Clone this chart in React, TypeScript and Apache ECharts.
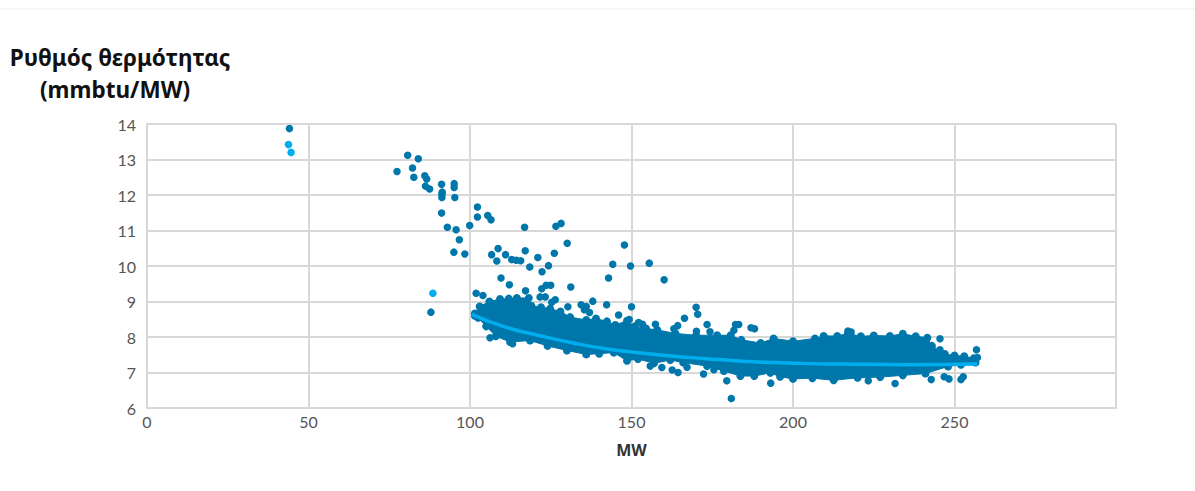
import React, { useEffect, useRef } from "react";
import * as echarts from "echarts";

const titleLines = ["Ρυθμός θερμότητας", "(mmbtu/MW)"];
const xName = "MW";

const darkPoints = [
  [44.1,13.87],[80.7,13.12],[84,13.02],[77.4,12.66],[82.2,12.76],[82.6,12.5],[86,12.54],[86.6,12.45],[86.2,12.25],[87.5,12.17],
  [91.2,12.3],[91.4,12.08],[91.3,12.02],[91.3,11.93],[95.1,12.32],[95.1,12.21],[95.3,11.93],[91.2,11.49],[93,11.09],[95.7,11.02],
  [96.7,10.74],[95,10.39],[98.4,10.34],[99.9,11.14],[102.3,11.66],[102.3,11.38],[105.5,11.42],[106.5,11.3],[116.9,11.09],[126.6,11.12],
  [128.2,11.2],[130.1,10.64],[147.8,10.59],[108.7,10.49],[106.7,10.32],[108.3,10.14],[111,10.32],[112.9,10.18],[114.3,10.16],[115.7,10.15],
  [117.1,10.43],[118.5,9.97],[121,10.24],[124.3,10.01],[126.1,10.36],[122.3,9.84],[109.6,9.66],[112.2,9.47],[117.2,9.3],[122.2,9.36],
  [123.6,9.46],[125,9.46],[131.2,9.41],[121.7,9.13],[123.3,9.13],[125.3,8.98],[126.4,9.05],[101.9,9.23],[104,9.17],[130.3,8.85],
  [134.4,8.91],[136,8.86],[135.4,8.77],[137,8.69],[138,9.01],[142.3,8.91],[142.9,9.66],[144.2,10.05],[149.7,10],[155.5,10.08],
  [160.1,9.61],[150,8.85],[146,8.62],[149.3,8.49],[152.2,8.41],[153.4,8.36],[157.4,8.36],[166.4,8.53],[170,8.84],[170.5,8.64],
  [173.4,8.35],[174.3,8.15],[170.1,8.16],[164.3,8.32],[163.1,8.23],[182.2,8.35],[183.2,8.35],[187,8.26],[188.1,8.23],[181.7,8.19],
  [106.2,7.98],[113.2,7.81],[159.4,7.14],[162.6,7.07],[164.4,7],[172.3,6.96],[175.5,7.08],[179.5,6.77],[180.9,6.27],[193.1,6.7],
  [155.8,7.18],[167.2,7.15],[223.3,6.77],[231.6,6.69],[242.8,6.8],[246.8,6.88],[248.3,6.82],[252,6.8],[252.7,6.88],[245.5,7.95],
  [245.5,7.64],[256.8,7.64],[257.1,7.42],[87.9,8.7],[217,8.17],[218,8.14],
];
const lightPoints = [[43.8,13.42],[44.6,13.2],[88.5,9.23]];

const bandUpper = [
  [101.5,8.66],[103,8.86],[106,9],[109.3,9.07],[112,9.08],[114.5,9.1],[118.2,9.1],[119,8.88],[122,8.84],[124.8,8.8],[128,8.72],[131,8.56],
  [136,8.48],[139,8.52],[142.4,8.44],[145,8.34],[148.6,8.46],[151,8.3],[154.5,8.24],[158,8.2],[163.6,8.1],[170,8.05],[176.5,8.05],
  [180.7,8.05],[184,7.92],[190,7.83],[194,7.96],[200,7.88],[206.8,7.96],[209.5,8.03],[213.7,8.03],[217,8.1],[221,8.02],[225,8.04],
  [230,8.03],[234,8.09],[238,8.02],[241.6,7.98],[243,7.75],[247,7.52],[250,7.48],[253,7.46],[256,7.4],
];
const bandLower = [
  [101.5,8.6],[102.5,8.54],[105,8.3],[108,8.02],[112.4,7.86],[118.6,7.9],[124,7.75],[130,7.62],[136,7.51],[140,7.53],[144.5,7.56],
  [148.6,7.33],[152,7.38],[157,7.26],[162,7.35],[166,7.28],[173.4,7.18],[178.6,7.04],[183.7,6.9],[188,6.9],[193,6.99],[196,6.88],
  [200,6.82],[206,6.84],[212.6,6.78],[220,6.85],[227,6.87],[234,6.92],[241,6.97],[248,7.17],[252,7.22],[256.5,7.28],
];

const fitLine = [
  [100.5,8.64],[111,8.28],[122,8.03],[132,7.83],[142,7.67],[153,7.55],[163,7.46],[173,7.39],[184,7.32],[194,7.28],[205,7.25],[215,7.24],[235,7.22],[257,7.24],
];

const xMin = 0, xMax = 300, xStep = 50;
const yMin = 6, yMax = 14, yStep = 1;

const DARK = "#0077AB";
const LIGHT = "#00AEEF";
const GRID = "#D8D8D8";

export default function App() {
  const ref = useRef<HTMLDivElement>(null);
  useEffect(() => {
    const chart = echarts.init(ref.current!, null, { renderer: "svg" });
    chart.setOption({
      animation: false,
      backgroundColor: "#fff",
      grid: { left: 147, right: 79, top: 124, bottom: 83, containLabel: false },
      graphic: [
        { type: "rect", shape: { x: 0, y: 8, width: 1195, height: 2 }, style: { fill: "#F6F6F6" }, silent: true },
        { type: "text", x: 120, y: 57, style: { text: titleLines[0], align: "center", verticalAlign: "middle", font: "bold 22.5px 'Noto Sans'", fill: "#111" } },
        { type: "text", x: 115, y: 89, style: { text: titleLines[1], align: "center", verticalAlign: "middle", font: "bold 22.5px 'Noto Sans'", fill: "#111" } },
      ],
      xAxis: {
        type: "value", min: xMin, max: xMax, interval: xStep,
        name: xName, nameLocation: "middle", nameGap: 34,
        nameTextStyle: { fontFamily: "Noto Sans", fontWeight: "bold", fontSize: 16, color: "#333" },
        axisLine: { show: true, lineStyle: { color: GRID, width: 2 } },
        axisTick: { show: false },
        splitLine: { show: true, lineStyle: { color: GRID, width: 2 } },
        axisLabel: {
          margin: 5, fontFamily: "Lato", fontSize: 16, color: "#555",
          formatter: (v: number) => (v >= xMax ? "" : String(v)),
        },
      },
      yAxis: {
        type: "value", min: yMin, max: yMax, interval: yStep,
        axisLine: { show: true, lineStyle: { color: GRID, width: 2 } },
        axisTick: { show: false },
        splitLine: { show: true, lineStyle: { color: GRID, width: 2 } },
        axisLabel: { margin: 11, fontFamily: "Lato", fontSize: 16, color: "#555" },
      },
      series: [
        {
          type: "custom", data: [0], coordinateSystem: "cartesian2d", z: 2,
          encode: { x: 0, y: 0 },
          renderItem: (_p: any, api: any) => ({
            type: "polygon",
            shape: { points: [...bandUpper, ...[...bandLower].reverse()].map((d) => api.coord(d)) },
            style: { fill: DARK, stroke: DARK, lineWidth: 1 },
          }),
        },
        { type: "scatter", data: bandUpper, symbolSize: 8, itemStyle: { color: DARK, opacity: 1 }, z: 3 },
        { type: "scatter", data: bandLower, symbolSize: 8, itemStyle: { color: DARK, opacity: 1 }, z: 3 },
        { type: "scatter", data: darkPoints, symbolSize: 7.5, itemStyle: { color: DARK, opacity: 1 }, z: 3 },
        { type: "scatter", data: lightPoints, symbolSize: 7.5, itemStyle: { color: LIGHT, opacity: 1 }, z: 3 },
        {
          type: "line", data: fitLine, smooth: true, showSymbol: false, symbol: "none", z: 4,
          lineStyle: { color: LIGHT, width: 3.5 },
        },
      ],
    });
    return () => chart.dispose();
  }, []);
  return <div ref={ref} style={{ position: "absolute", left: 0, top: 0, width: 1195, height: 491 }} />;
}
